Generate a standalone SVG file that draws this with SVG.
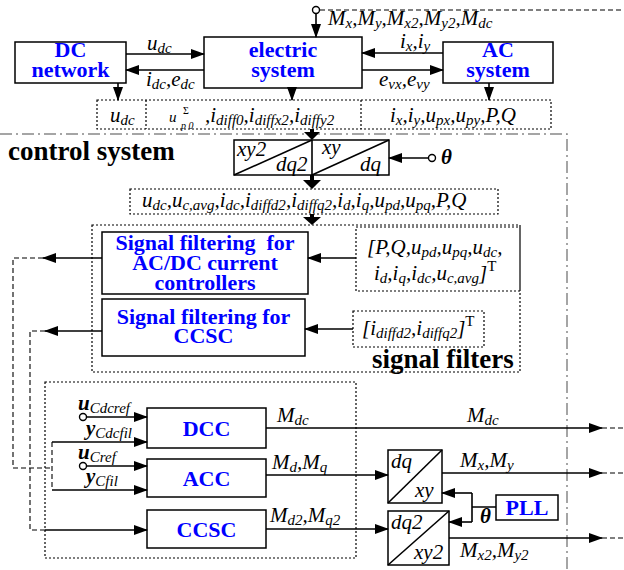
<svg xmlns="http://www.w3.org/2000/svg" width="624" height="570" viewBox="0 0 624 570">
<defs>
<style>
.box{fill:#fff;stroke:#000;stroke-width:1.5}
.dbox{fill:none;stroke:#000;stroke-width:1.2;stroke-dasharray:2,2}
.ln{fill:none;stroke:#000;stroke-width:1.6}
.dl{fill:none;stroke:#000;stroke-width:1.1;stroke-dasharray:5,3}
.dd{fill:none;stroke:#888;stroke-width:1.5;stroke-dasharray:12,4,2,4}
.cir{fill:#fff;stroke:#000;stroke-width:1.4}
text{font-family:'Liberation Serif','Times New Roman',Tinos,'DejaVu Serif','Noto Serif',serif}
.bl{font-weight:bold;fill:#0000ff;font-size:22px;text-anchor:middle}
.m{font-style:italic;font-size:21px;fill:#000}
.s{font-size:15px}
.b{font-weight:bold}
.hd{font-weight:bold;font-size:27px;fill:#000}
.tr{font-style:italic;font-size:21px;fill:#000}
</style>
<marker id="a" markerWidth="14" markerHeight="10" refX="13" refY="5" orient="auto" markerUnits="userSpaceOnUse"><path d="M0,0 L14,5 L0,10 z" fill="#000"/></marker>
</defs>
<rect width="624" height="570" fill="#fff"/>

<path class="dd" d="M0,134 H567 V570"/>

<g id="dc-network"><rect class="box" x="15" y="42" width="111" height="41"/><text class="bl" x="70.5" y="57">DC</text><text class="bl" x="70.5" y="77">network</text></g>
<g id="electric-system"><rect class="box" x="204" y="37" width="158" height="51"/><text class="bl" x="283" y="57">electric</text><text class="bl" x="283" y="77">system</text></g>
<g id="ac-system"><rect class="box" x="443" y="42" width="110" height="41"/><text class="bl" x="498" y="57">AC</text><text class="bl" x="498" y="77">system</text></g>

<g id="row1">
<rect class="dbox" x="97" y="100" width="454" height="29"/>
<line class="dbox" x1="146" y1="100" x2="146" y2="129"/>
<line class="dbox" x1="361" y1="100" x2="361" y2="129"/>
<text class="m" x="110" y="122">u<tspan class="s" dy="3">dc</tspan></text>
<text class="m" x="169" y="122" style="font-size:15px">u</text>
<text class="m" x="183" y="114" style="font-size:10px;font-style:normal">Σ</text>
<text class="m" x="181" y="129" style="font-size:10px">p 0</text>
<text class="m" x="205" y="122">,i<tspan class="s" dy="3">diff0</tspan><tspan dy="-3">,i</tspan><tspan class="s" dy="3">diffx2</tspan><tspan dy="-3">,i</tspan><tspan class="s" dy="3">diffy2</tspan></text>
<text class="m" x="390" y="122">i<tspan class="s" dy="3">x</tspan><tspan dy="-3">,i</tspan><tspan class="s" dy="3">y</tspan><tspan dy="-3">,u</tspan><tspan class="s" dy="3">px</tspan><tspan dy="-3">,u</tspan><tspan class="s" dy="3">py</tspan><tspan dy="-3">,P,Q</tspan></text>
</g>

<g id="text-control-system"><text class="hd" x="8" y="160">control system</text></g>

<g id="transform-top">
<rect class="box" x="234" y="140" width="155" height="35"/>
<line class="ln" x1="312" y1="140" x2="312" y2="175"/>
<line class="ln" x1="234" y1="175" x2="312" y2="140"/>
<line class="ln" x1="312" y1="175" x2="389" y2="140"/>
<text class="tr" x="237" y="156">xy2</text>
<text class="tr" x="276" y="171">dq2</text>
<text class="tr" x="322" y="154">xy</text>
<text class="tr" x="360" y="171">dq</text>
</g>

<g id="row2">
<rect class="dbox" x="130" y="189" width="368" height="25"/>
<text class="m" x="142" y="207">u<tspan class="s" dy="3">dc</tspan><tspan dy="-3">,u</tspan><tspan class="s" dy="3">c,avg</tspan><tspan dy="-3">,i</tspan><tspan class="s" dy="3">dc</tspan><tspan dy="-3">,i</tspan><tspan class="s" dy="3">diffd2</tspan><tspan dy="-3">,i</tspan><tspan class="s" dy="3">diffq2</tspan><tspan dy="-3">,i</tspan><tspan class="s" dy="3">d</tspan><tspan dy="-3">,i</tspan><tspan class="s" dy="3">q</tspan><tspan dy="-3">,u</tspan><tspan class="s" dy="3">pd</tspan><tspan dy="-3">,u</tspan><tspan class="s" dy="3">pq</tspan><tspan dy="-3">,P,Q</tspan></text>
</g>

<g id="signal-filters">
<rect class="dbox" x="92" y="225" width="428" height="147"/>
<text class="hd" x="372" y="368">signal filters</text>
</g>
<g id="filter-acdc"><rect class="box" x="102" y="232" width="206" height="62"/>
<text class="bl" x="205" y="250" xml:space="preserve">Signal filtering  for</text>
<text class="bl" x="205" y="270">AC/DC current</text>
<text class="bl" x="205" y="290">controllers</text></g>
<g id="filter-ccsc"><rect class="box" x="102" y="299" width="203" height="57"/>
<text class="bl" x="203.5" y="324">Signal filtering for</text>
<text class="bl" x="203.5" y="343">CCSC</text></g>
<g id="input1"><rect class="dbox" x="356" y="227" width="164" height="64"/>
<text class="m" x="367" y="254">[P,Q,u<tspan class="s" dy="3">pd</tspan><tspan dy="-3">,u</tspan><tspan class="s" dy="3">pq</tspan><tspan dy="-3">,u</tspan><tspan class="s" dy="3">dc</tspan><tspan dy="-3">,</tspan></text>
<text class="m" x="374" y="280">i<tspan class="s" dy="3">d</tspan><tspan dy="-3">,i</tspan><tspan class="s" dy="3">q</tspan><tspan dy="-3">,i</tspan><tspan class="s" dy="3">dc</tspan><tspan dy="-3">,u</tspan><tspan class="s" dy="3">c,avg</tspan><tspan dy="-3">]</tspan><tspan class="s" dy="-9" style="font-style:normal">T</tspan></text></g>
<g id="input2"><rect class="dbox" x="353" y="311" width="131" height="36"/>
<text class="m" x="362" y="335">[i<tspan class="s" dy="3">diffd2</tspan><tspan dy="-3">,i</tspan><tspan class="s" dy="3">diffq2</tspan><tspan dy="-3">]</tspan><tspan class="s" dy="-9" style="font-style:normal">T</tspan></text></g>

<g id="controllers-box"><rect class="dbox" x="45" y="382" width="311" height="176"/></g>
<g id="dcc"><rect class="box" x="147" y="408" width="119" height="40"/><text class="bl" x="206.5" y="436">DCC</text></g>
<g id="acc"><rect class="box" x="147" y="459" width="119" height="38"/><text class="bl" x="206.5" y="486">ACC</text></g>
<g id="ccsc"><rect class="box" x="147" y="510" width="119" height="38"/><text class="bl" x="206.5" y="537">CCSC</text></g>

<g id="dqxy"><rect class="box" x="388" y="450" width="54" height="53"/><line class="ln" x1="388" y1="503" x2="442" y2="450"/>
<text class="tr" x="391" y="468">dq</text><text class="tr" x="415" y="497">xy</text></g>
<g id="dq2xy2"><rect class="box" x="388" y="511" width="61" height="54"/><line class="ln" x1="388" y1="565" x2="449" y2="511"/>
<text class="tr" x="391" y="529">dq2</text><text class="tr" x="414" y="559">xy2</text></g>
<g id="pll"><rect class="box" x="496" y="495" width="62" height="25"/><text class="bl" x="527" y="515">PLL</text></g>

<g id="connectors">
<line class="ln" x1="126" y1="54" x2="204" y2="54" marker-end="url(#a)"/>
<line class="ln" x1="204" y1="70" x2="126" y2="70" marker-end="url(#a)"/>
<line class="ln" x1="443" y1="53" x2="362" y2="53" marker-end="url(#a)"/>
<line class="ln" x1="362" y1="70" x2="443" y2="70" marker-end="url(#a)"/>
<circle class="cir" cx="316" cy="10" r="3.5"/>
<line class="ln" x1="316" y1="13.5" x2="316" y2="37" marker-end="url(#a)"/>
<line class="dl" x1="320" y1="10" x2="624" y2="10"/>
<line class="ln" x1="118" y1="83" x2="118" y2="100" marker-end="url(#a)"/>
<line class="ln" x1="292" y1="88" x2="292" y2="100" marker-end="url(#a)"/>
<line class="ln" x1="489" y1="83" x2="489" y2="100" marker-end="url(#a)"/>
<path d="M310,129 H314 V132 H320 L312,140 L304,132 H310 Z" fill="#000"/>
<path d="M310,175 H314 V180 H321 L312,189 L303,180 H310 Z" fill="#000"/>
<path d="M310,214 H314 V217 H321 L312,225 L303,217 H310 Z" fill="#000"/>
<circle class="cir" cx="432" cy="158" r="3.5"/>
<line class="ln" x1="428.5" y1="158" x2="389" y2="158" marker-end="url(#a)"/>
<line class="ln" x1="356" y1="258" x2="308" y2="258" marker-end="url(#a)"/>
<line class="ln" x1="353" y1="329" x2="305" y2="329" marker-end="url(#a)"/>
<line class="ln" x1="102" y1="258" x2="43" y2="258" marker-end="url(#a)"/>
<path class="dl" d="M43,258 H13 V468 H52"/>
<path class="dl" d="M52,442 V490"/>
<line class="ln" x1="102" y1="331" x2="45" y2="331" marker-end="url(#a)"/>
<path class="dl" d="M45,331 H30 V530 H45"/>
<circle class="cir" cx="83" cy="417" r="3.5"/>
<line class="ln" x1="86.5" y1="417" x2="147" y2="417" marker-end="url(#a)"/>
<line class="ln" x1="52" y1="442" x2="147" y2="442" marker-end="url(#a)"/>
<circle class="cir" cx="83" cy="466" r="3.5"/>
<line class="ln" x1="86.5" y1="466" x2="147" y2="466" marker-end="url(#a)"/>
<line class="ln" x1="52" y1="490" x2="147" y2="490" marker-end="url(#a)"/>
<line class="ln" x1="45" y1="530" x2="147" y2="530" marker-end="url(#a)"/>
<line class="ln" x1="266" y1="428" x2="602" y2="428" marker-end="url(#a)"/>
<line class="dl" x1="602" y1="428" x2="624" y2="428"/>
<line class="ln" x1="266" y1="475" x2="388" y2="475" marker-end="url(#a)"/>
<line class="ln" x1="266" y1="529" x2="388" y2="529" marker-end="url(#a)"/>
<line class="ln" x1="442" y1="473" x2="602" y2="473" marker-end="url(#a)"/>
<line class="dl" x1="602" y1="473" x2="624" y2="473"/>
<line class="ln" x1="449" y1="538" x2="602" y2="538" marker-end="url(#a)"/>
<line class="dl" x1="602" y1="538" x2="624" y2="538"/>
<path class="ln" d="M496,507 H472 M472,493 V522"/>
<line class="ln" x1="472" y1="493" x2="442" y2="493" marker-end="url(#a)"/>
<line class="ln" x1="472" y1="522" x2="449" y2="522" marker-end="url(#a)"/>
</g>

<g id="labels">
<text class="m" x="147" y="50">u<tspan class="s" dy="3">dc</tspan></text>
<text class="m" x="146" y="86">i<tspan class="s" dy="3">dc</tspan><tspan dy="-3">,e</tspan><tspan class="s" dy="3">dc</tspan></text>
<text class="m" x="400" y="48">i<tspan class="s" dy="3">x</tspan><tspan dy="-3">,i</tspan><tspan class="s" dy="3">y</tspan></text>
<text class="m" x="379" y="86">e<tspan class="s" dy="3">vx</tspan><tspan dy="-3">,e</tspan><tspan class="s" dy="3">vy</tspan></text>
<text class="m" x="328" y="25">M<tspan class="s" dy="3">x</tspan><tspan dy="-3">,M</tspan><tspan class="s" dy="3">y</tspan><tspan dy="-3">,M</tspan><tspan class="s" dy="3">x2</tspan><tspan dy="-3">,M</tspan><tspan class="s" dy="3">y2</tspan><tspan dy="-3">,M</tspan><tspan class="s" dy="3">dc</tspan></text>
<text class="m b" x="441" y="164">θ</text>
<text class="m" x="78" y="410"><tspan class="b">u</tspan><tspan class="s" dy="3">Cdcref</tspan></text>
<text class="m" x="86" y="435"><tspan class="b">y</tspan><tspan class="s" dy="3">Cdcfil</tspan></text>
<text class="m" x="78" y="459"><tspan class="b">u</tspan><tspan class="s" dy="3">Cref</tspan></text>
<text class="m" x="86" y="483"><tspan class="b">y</tspan><tspan class="s" dy="3">Cfil</tspan></text>
<text class="m" x="277" y="422">M<tspan class="s" dy="3">dc</tspan></text>
<text class="m" x="467" y="422">M<tspan class="s" dy="3">dc</tspan></text>
<text class="m" x="272" y="469">M<tspan class="s" dy="3">d</tspan><tspan dy="-3">,M</tspan><tspan class="s" dy="3">q</tspan></text>
<text class="m" x="270" y="522">M<tspan class="s" dy="3">d2</tspan><tspan dy="-3">,M</tspan><tspan class="s" dy="3">q2</tspan></text>
<text class="m" x="460" y="467">M<tspan class="s" dy="3">x</tspan><tspan dy="-3">,M</tspan><tspan class="s" dy="3">y</tspan></text>
<text class="m" x="460" y="557">M<tspan class="s" dy="3">x2</tspan><tspan dy="-3">,M</tspan><tspan class="s" dy="3">y2</tspan></text>
<text class="m b" x="480" y="523">θ</text>
</g>
</svg>
